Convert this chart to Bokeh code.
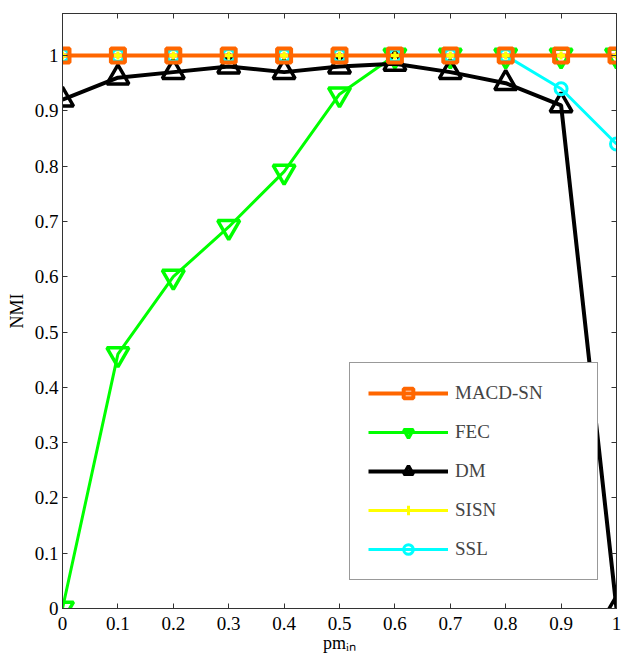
from bokeh.plotting import figure
from bokeh.models import (Range1d, FixedTicker, LinearAxis, Legend, LegendItem)
from bokeh.embed import file_html
from bokeh.resources import INLINE

# ---- data ----
x_vals = [0, 0.1, 0.2, 0.3, 0.4, 0.5, 0.6, 0.7, 0.8, 0.9, 1.0]
macd_sn = [1, 1, 1, 1, 1, 1, 1, 1, 1, 1, 1]
fec = [0.0, 0.46, 0.60, 0.69, 0.79, 0.93, 1.0, 1.0, 1.0, 1.0, 1.0]
dm = [0.92, 0.96, 0.97, 0.98, 0.97, 0.98, 0.985, 0.97, 0.95, 0.91, 0.0]
sisn = [1, 1, 1, 1, 1, 1, 1, 1, 1, 1, 1]
ssl = [1, 1, 1, 1, 1, 1, 1, 1, 1, 0.94, 0.84]

x_ticks = [0, 0.1, 0.2, 0.3, 0.4, 0.5, 0.6, 0.7, 0.8, 0.9, 1]
x_tick_labels = ["0", "0.1", "0.2", "0.3", "0.4", "0.5", "0.6", "0.7", "0.8", "0.9", "1"]
y_ticks = [0, 0.1, 0.2, 0.3, 0.4, 0.5, 0.6, 0.7, 0.8, 0.9, 1]
y_tick_labels = ["0", "0.1", "0.2", "0.3", "0.4", "0.5", "0.6", "0.7", "0.8", "0.9", "1"]

FONT = "Liberation Serif"

p = figure(width=622, height=658, output_backend="svg", toolbar_location=None,
           x_range=Range1d(0, 1), y_range=Range1d(0, 1.076),
           min_border_left=62, min_border_right=6, min_border_top=13, min_border_bottom=50)
p.background_fill_color = "white"
p.border_fill_color = "white"
p.grid.visible = False
p.outline_line_color = "#333333"
p.outline_line_width = 1

def style_axis(ax, ticks, labels):
    ax.ticker = FixedTicker(ticks=ticks)
    ax.major_label_overrides = {t: l for t, l in zip(ticks, labels)}
    ax.major_tick_in = 5
    ax.major_tick_out = 0
    ax.minor_tick_line_color = None
    ax.axis_line_color = "#333333"
    ax.major_tick_line_color = "#333333"
    ax.major_label_text_font = FONT
    ax.major_label_text_font_size = "19px"
    ax.major_label_text_color = "black"
    ax.axis_label_text_font = FONT
    ax.axis_label_text_font_size = "18px"
    ax.axis_label_text_font_style = "normal"
    ax.axis_label_text_color = "black"

xa = p.xaxis[0]
style_axis(xa, x_ticks, x_tick_labels)
xa.major_label_standoff = 8
xa.axis_label = "pm\u1d62\u2099"
xa.axis_label_standoff = 0
ya = p.yaxis[0]
style_axis(ya, y_ticks, y_tick_labels)
ya.major_label_standoff = 4
ya.axis_label = "NMI"
ya.axis_label_standoff = 5

top = LinearAxis()
style_axis(top, x_ticks, [""] * len(x_ticks))
p.add_layout(top, "above")
right = LinearAxis()
style_axis(right, y_ticks, [""] * len(y_ticks))
p.add_layout(right, "right")

# ---- series ----
r_fec_l = p.line(x_vals, fec, line_color="#00FF00", line_width=3)
r_fec_m = p.scatter(x_vals, fec, marker="inverted_triangle", size=22, fill_color=None,
                    line_color="#00FF00", line_width=3.5)
r_dm_l = p.line(x_vals, dm, line_color="black", line_width=4)
r_dm_m = p.scatter(x_vals, dm, marker="triangle", size=22, fill_color=None,
                   line_color="black", line_width=3.5)
r_ssl_l = p.line(x_vals, ssl, line_color="#00FFFF", line_width=3)
r_ssl_m = p.scatter(x_vals, ssl, marker="circle", size=12, fill_color=None,
                    line_color="#00FFFF", line_width=3)
r_sisn_l = p.line(x_vals, sisn, line_color="#FFFF00", line_width=3)
r_macd_l = p.line(x_vals, macd_sn, line_color="#FF6600", line_width=4)
r_macd_m = p.scatter(x_vals, macd_sn, marker="square", size=14, fill_color=None,
                     line_color="#FF6600", line_width=4)
r_sisn_m = p.scatter(x_vals, sisn, marker="cross", size=8, line_color="#FFFF00", line_width=3)

legend = Legend(items=[
    LegendItem(label="MACD-SN", renderers=[r_macd_l, r_macd_m]),
    LegendItem(label="FEC", renderers=[r_fec_l, r_fec_m]),
    LegendItem(label="DM", renderers=[r_dm_l, r_dm_m]),
    LegendItem(label="SISN", renderers=[r_sisn_l, r_sisn_m]),
    LegendItem(label="SSL", renderers=[r_ssl_l, r_ssl_m]),
], location=(287, 28))
legend.label_text_font = FONT
legend.label_text_font_size = "19px"
legend.glyph_width = 80
legend.glyph_height = 24
legend.label_height = 24
legend.spacing = 15
legend.padding = 18
legend.margin = 0
legend.label_standoff = 7
legend.label_width = 124
legend.border_line_color = "#333333"
legend.border_line_width = 1
legend.background_fill_alpha = 1
p.add_layout(legend, "center")

open("out.html", "w").write(file_html(p, INLINE))
